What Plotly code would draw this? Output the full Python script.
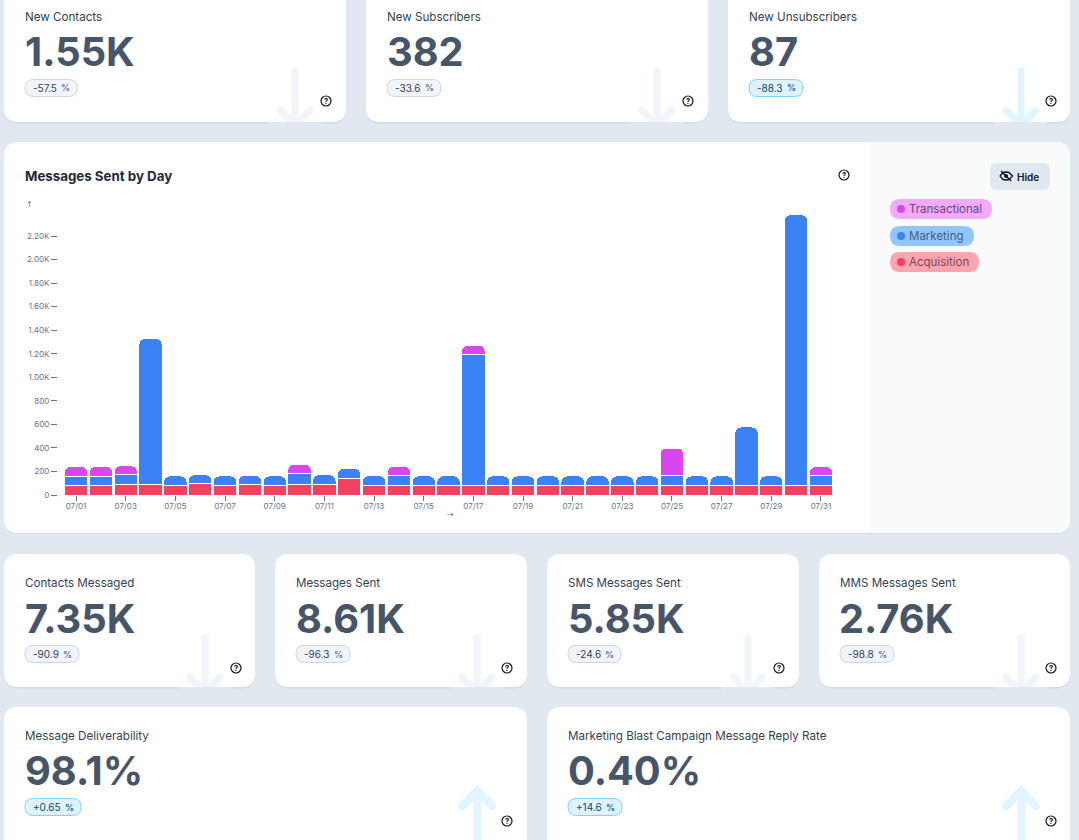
import plotly.graph_objects as go

W, H = 1079, 840

# ---------- data ----------
days = [f"07/{d:02d}" for d in range(1, 32)]
acquisition = [79, 79, 86, 89, 80, 94, 80, 86, 80, 86, 92, 143, 83, 80, 80, 80, 80, 80, 80, 80,
               80, 80, 80, 80, 80, 80, 80, 80, 80, 80, 80]
marketing = [82, 82, 84, 1240, 82, 78, 82, 80, 82, 94, 80, 83, 80, 82, 82, 82, 1118, 82, 82, 82,
             82, 82, 82, 82, 82, 82, 82, 498, 82, 2301, 82]
transactional = [80, 82, 78, None, None, None, None, None, None, 83, None, None, None, 80, None, None,
                 76, None, None, None, None, None, None, None, 237, None, None, None, None, None, 78]
y_ticks = [0, 200, 400, 600, 800, 1000, 1200, 1400, 1600, 1800, 2000, 2200]
y_labels = ["0", "200", "400", "600", "800", "1.00K", "1.20K", "1.40K", "1.60K", "1.80K", "2.00K", "2.20K"]

metric_labels = ["New Contacts", "New Subscribers", "New Unsubscribers", "Contacts Messaged", "Messages Sent",
                 "SMS Messages Sent", "MMS Messages Sent", "Message Deliverability",
                 "Marketing Blast Campaign Message Reply Rate"]
metric_values = ["1.55K", "382", "87", "7.35K", "8.61K", "5.85K", "2.76K", "98.1%", "0.40%"]
metric_deltas = ["-57.5", "-33.6", "-88.3", "-90.9", "-96.3", "-24.6", "-98.8", "+0.65", "+14.6"]
metric_hot = [False, False, True, False, False, False, False, True, True]
legend_names = ["Transactional", "Marketing", "Acquisition"]

# ---------- styles ----------
BG = "#E2E8F0"
C_T, C_M, C_A = "#D946EF", "#3B82F6", "#F43F5E"
FONT = "Inter"

# ---------- layout geometry (px) ----------
rows = {0: (-20, 122, 17, 51, 88, 101, 67), 1: (554, 687, 583, 618, 654, 668, 634), 2: (707, 870, 736, 770, 807, 821, 787)}
cards = [
    (0, 4, 346, 295, 326, 77), (0, 366, 708, 657, 688, 441), (0, 728, 1070, 1021, 1051, 803),
    (1, 4, 255, 205, 236, 79), (1, 275, 527, 477, 507, 350), (1, 547, 799, 748, 779, 621), (1, 819, 1070, 1021, 1051, 894),
    (2, 4, 527, 477, 507, 81), (2, 547, 1070, 1021, 1051, 622),
]


def px(x):
    return x / W


def py(y):
    return 1 - y / H


def rr_path(x0, y0, x1, y1, r, corners=(1, 1, 1, 1)):
    tl, tr, br, bl = [r * c for c in corners]
    pts = [f"M{px(x0 + tl)},{py(y0)}", f"L{px(x1 - tr)},{py(y0)}", f"Q{px(x1)},{py(y0)} {px(x1)},{py(y0 + tr)}",
           f"L{px(x1)},{py(y1 - br)}", f"Q{px(x1)},{py(y1)} {px(x1 - br)},{py(y1)}",
           f"L{px(x0 + bl)},{py(y1)}", f"Q{px(x0)},{py(y1)} {px(x0)},{py(y1 - bl)}",
           f"L{px(x0)},{py(y0 + tl)}", f"Q{px(x0)},{py(y0)} {px(x0 + tl)},{py(y0)}", "Z"]
    return " ".join(pts)


shapes, notes = [], []


def rrect(x0, y0, x1, y1, r, fill, line=None, lw=1, corners=(1, 1, 1, 1)):
    shapes.append(dict(type="path", xref="paper", yref="paper", path=rr_path(x0, y0, x1, y1, r, corners),
                       fillcolor=fill, line=dict(color=line or "rgba(0,0,0,0)", width=lw if line else 0),
                       layer="below"))


def poly(points, color, lw):
    d = " ".join(("M" if i == 0 else "L") + f"{px(x)},{py(y)}" for i, (x, y) in enumerate(points))
    shapes.append(dict(type="path", xref="paper", yref="paper", path=d, line=dict(color=color, width=lw),
                       layer="below"))


def circle(cx, cy, r, fill, line=None, lw=1):
    shapes.append(dict(type="circle", xref="paper", yref="paper", x0=px(cx - r), x1=px(cx + r), y0=py(cy + r),
                       y1=py(cy - r), fillcolor=fill, line=dict(color=line or "rgba(0,0,0,0)", width=lw if line else 0),
                       layer="below"))


def text(x, y, s, size, color, weight=400, anchor="left", family=FONT):
    notes.append(dict(xref="paper", yref="paper", x=px(x), y=py(y), text=s, showarrow=False, xanchor=anchor,
                      yanchor="middle", borderpad=0, borderwidth=0,
                      font=dict(family=family, size=size, color=color, weight=weight)))


def help_icon(x, y):
    circle(x, y, 5, "rgba(0,0,0,0)", "#111827", 1.2)
    text(x, y + 0.3, "?", 7.5, "#111827", 700, "center")


for (row, x0, x1, *_r) in cards:
    y0, y1 = rows[row][:2]
    rrect(x0, y0 + 1, x1, y1 + 1.5, 14, "#D3DBE6")
    rrect(x0, y0, x1, y1, 14, "white")

for i, (row, x0, x1, ax, ix, chip_x1) in enumerate(cards):
    y0, y1, ly, vy, cy, iy, atop = rows[row]
    hot = metric_hot[i]
    arrow = "#E0F5FE" if hot else "#F1F5F9"
    if metric_deltas[i].startswith("+"):
        poly([(ax, atop + 4), (ax, y1)], arrow, 8)
        poly([(ax - 15, atop + 19), (ax, atop + 4), (ax + 15, atop + 19)], arrow, 8)
        circle(ax, atop + 4, 4, arrow)
        circle(ax - 15, atop + 19, 4, arrow)
        circle(ax + 15, atop + 19, 4, arrow)
    else:
        poly([(ax, atop + 3.5), (ax, y1 + 3)], arrow, 7)
        circle(ax, atop + 3.5, 3.5, arrow)
        poly([(ax - 15, atop + 43), (ax, atop + 58)], arrow, 7)
        poly([(ax + 15, atop + 43), (ax, atop + 58)], arrow, 7)
        circle(ax - 15, atop + 43, 3.5, arrow)
        circle(ax + 15, atop + 43, 3.5, arrow)
        shapes.append(dict(type="rect", xref="paper", yref="paper", x0=px(ax - 26), x1=px(ax + 26), y0=py(y1 + 14),
                           y1=py(y1), fillcolor=BG, line=dict(width=0), layer="below"))
    text(x0 + 21, ly, metric_labels[i], 11.6, "#334155")
    text(x0 + 20.5, vy, metric_values[i], 39.8, "#475569", 700)
    fill, border, tc = ("#E0F2FE", "#7DD3FC", "#0C4A6E") if hot else ("#F1F5F9", "#CBD5E1", "#334155")
    rrect(x0 + 21, cy - 8.5, chip_x1, cy + 8.5, 8.5, fill, border, 1)
    text(x0 + 29, cy, metric_deltas[i], 10, tc)
    text(chip_x1 - 7, cy, "%", 9, "#64748B" if not hot else "#0369A1", 600, "right")
    help_icon(ix, iy)

rrect(4, 142, 1070, 534, 14, "#D3DBE6")
rrect(4, 142, 1070, 533, 14, "white")
rrect(869, 142, 1070, 533, 14, "#F8FAFC", corners=(0, 1, 1, 0))
text(25, 176, "Messages Sent by Day", 13.3, "#1E293B", 700)
help_icon(844, 175)
rrect(990, 163, 1050, 190, 7, BG)
text(1017, 176.5, "Hide", 10, "#0F172A", 600)
poly([(1000, 176), (1003, 172.5), (1006, 172), (1009, 172.5), (1012.5, 176), (1009, 179.5), (1006, 180), (1003, 179.5), (1000, 176)], "#0F172A", 1.4)
circle(1006, 176, 2, "#0F172A")
poly([(1001, 171), (1011, 181)], "#0F172A", 1.4)

for name, y0, x1, fill, dot, tc in zip(legend_names, (199, 226, 252), (992, 974, 979),
                                       ("#F0ABFC", "#93C5FD", "#FDA4AF"), (C_T, C_M, C_A),
                                       ("#6D4180", "#3F5F85", "#7E4453")):
    rrect(890, y0, x1, y0 + 20, 10, fill)
    circle(901, y0 + 10, 4, dot)
    text(909, y0 + 10, name, 11.5, tc)

text(29, 204, "↑", 8, "#64748B", 400, "center", "DejaVu Sans")
text(450, 514, "→", 8, "#64748B", 400, "center", "DejaVu Sans")

bar_line = dict(color="white", width=1)
fig = go.Figure()
for name, vals, color in (("Acquisition", acquisition, C_A), ("Marketing", marketing, C_M), ("Transactional", transactional, C_T)):
    fig.add_bar(x=days, y=vals, name=name, marker=dict(color=color, line=bar_line), showlegend=False)

ZERO, TOP, SCALE = 495, 204, 0.1177
AX = dict(showgrid=False, zeroline=False, showline=False, ticks="outside", tickcolor="#64748B", tickwidth=1,
          automargin=False, tickfont=dict(family="Inter", size=8, color="#64748B"))
fig.update_layout(
    width=W, height=H, margin=dict(l=0, r=0, t=0, b=0, pad=0, autoexpand=False), paper_bgcolor=BG,
    plot_bgcolor="rgba(0,0,0,0)",
    barmode="stack", bargap=0.06, barcornerradius=6, shapes=shapes, annotations=notes, showlegend=False,
    xaxis=dict(AX, domain=[px(63.6), px(833.4)], range=[-0.5, 30.5], type="category", categoryorder="array",
               categoryarray=days, tickmode="array", tickvals=days[::2], ticktext=days[::2], ticklen=5,
               ticklabelstandoff=-2, anchor="free", position=py(495)),
    yaxis=dict(AX, domain=[py(ZERO), py(TOP)], range=[0, (ZERO - TOP) / SCALE], tickmode="array", tickvals=y_ticks,
               ticktext=y_labels, ticklen=6, anchor="free", position=px(57)),
)
fig.write_html("out.html", config=dict(displayModeBar=False),
               post_script="document.body.style.margin='0';document.body.style.overflow='hidden';")
